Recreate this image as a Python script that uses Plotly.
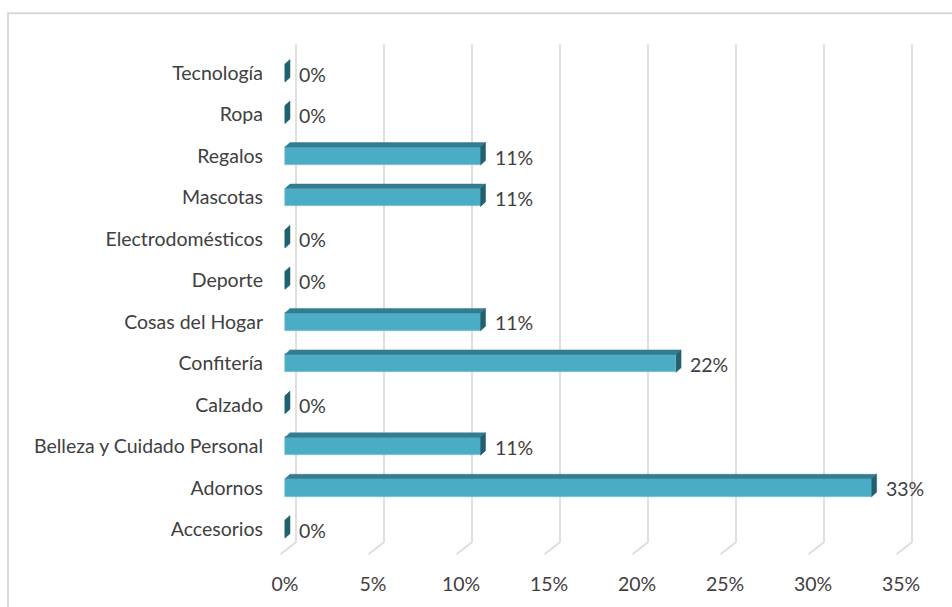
import plotly.graph_objects as go

# Share of answers per purchase category (percent)
categories = [
    "Accesorios", "Adornos", "Belleza y Cuidado Personal", "Calzado",
    "Confitería", "Cosas del Hogar", "Deporte", "Electrodomésticos",
    "Mascotas", "Regalos", "Ropa", "Tecnología",
]
values = [0, 33.33, 11.11, 0, 22.22, 11.11, 0, 0, 11.11, 11.11, 0, 0]
tick_values = [0, 5, 10, 15, 20, 25, 30, 35]
tick_labels = [f"{t}%" for t in tick_values]

# ---- page geometry (pixels) ----
W, H = 952, 607
ML, MR, MT, MB = 270, 12, 40, 47
PX_PER_PCT = 17.6      # horizontal pixels per percentage point
X0_PX = 285            # pixel column of 0 % on the front plane
PX_PER_CAT = 41.7      # vertical pixels between categories
Y0_PX = 532            # pixel row of the first category


def px_to_x(px):
    return (px - X0_PX) / PX_PER_PCT


def px_to_y(py):
    return (Y0_PX - py) / PX_PER_CAT


positions = list(range(len(categories)))

# 3-D look: bar thickness and depth offset
BAR_H = 18 / PX_PER_CAT
DX = 5 / PX_PER_PCT
DY = 4.5 / PX_PER_CAT

FONT = dict(family="Lato, 'Liberation Sans', sans-serif", size=19.5, color="#404040")
GRID = "#D9D9D9"

fig = go.Figure()

# Back-wall gridlines folding onto the floor, kept beneath the bars
back_off = 11 / PX_PER_PCT
front_off = -4.5 / PX_PER_PCT
y_top, y_wall, y_floor = px_to_y(44), px_to_y(545), px_to_y(557)
for t in tick_values:
    path = (f"M {t + back_off},{y_top} L {t + back_off},{y_wall} "
            f"L {t + front_off},{y_floor}")
    fig.add_shape(type="path", path=path, xref="x", yref="y", layer="below",
                  line=dict(color=GRID, width=1.6))

# Front faces of the bars
fig.add_trace(go.Bar(
    x=values, y=positions, orientation="h", width=BAR_H,
    marker=dict(color="#4BACC6", line=dict(color="#7CC4D8", width=0.6)),
    hoverinfo="skip", showlegend=False,
))

# Top and side faces
tx, ty, sx, sy = [], [], [], []
for v, p in zip(values, positions):
    top = p + BAR_H / 2
    bot = p - BAR_H / 2
    tx += [0, v, v + DX, DX, 0, None]
    ty += [top, top, top + DY, top + DY, top, None]
    sx += [v, v + DX, v + DX, v, v, None]
    sy += [bot, bot + DY, top + DY, top, bot, None]

fig.add_trace(go.Scatter(x=tx, y=ty, mode="lines", fill="toself",
                         fillcolor="#347C90", line=dict(color="#347C90", width=0.5),
                         hoverinfo="skip", showlegend=False))
fig.add_trace(go.Scatter(x=sx, y=sy, mode="lines", fill="toself",
                         fillcolor="#22606F", line=dict(color="#22606F", width=0.5),
                         hoverinfo="skip", showlegend=False))

# Value labels
for v, p in zip(values, positions):
    fig.add_annotation(x=v, y=p, text=f"{round(v)}%", showarrow=False,
                       xanchor="left", yanchor="middle", xshift=12, yshift=-1,
                       font=FONT)

pw = W - ML - MR
ph = H - MT - MB

# Chart frame
fig.add_shape(type="rect", xref="paper", yref="paper",
              x0=(8 - ML) / pw, x1=(W + 10 - ML) / pw,
              y0=(H - MB - (H + 10)) / ph, y1=(H - MB - 13) / ph,
              line=dict(color="#D9D9D9", width=2), fillcolor="rgba(0,0,0,0)")

fig.update_layout(
    width=W, height=H,
    margin=dict(l=ML, r=MR, t=MT, b=MB, pad=0),
    paper_bgcolor="white", plot_bgcolor="white",
    font=FONT, showlegend=False, bargap=0,
    xaxis=dict(range=[px_to_x(ML), px_to_x(W - MR)], tickvals=tick_values,
               ticktext=tick_labels, showgrid=False, zeroline=False,
               showline=False, ticks="", ticklabelstandoff=13,
               fixedrange=True, tickfont=FONT),
    yaxis=dict(range=[px_to_y(H - MB), px_to_y(MT)], tickvals=positions,
               ticktext=categories, showgrid=False, zeroline=False,
               showline=False, ticks="", ticklabelstandoff=6,
               fixedrange=True, tickfont=FONT),
)

fig.write_html("out.html")
